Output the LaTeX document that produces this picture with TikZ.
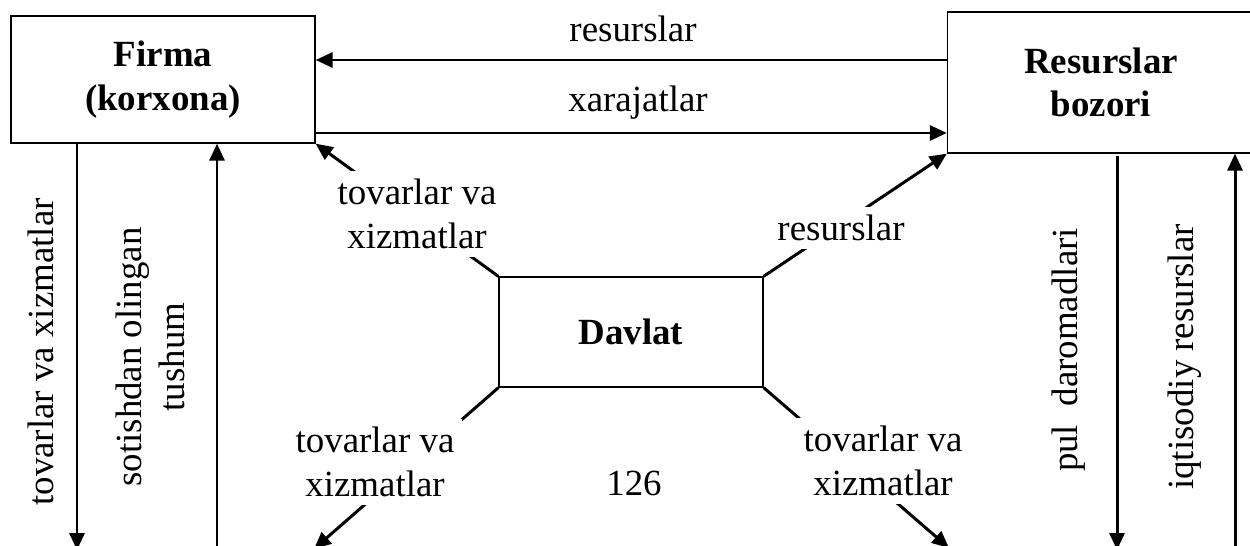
\documentclass[tikz,border=0pt]{standalone}
\usepackage{fontspec}
\setmainfont{Liberation Serif}
\usetikzlibrary{arrows.meta}
\newcommand{\diagfont}{\fontsize{21}{24.7}\selectfont}

\begin{document}
\begin{tikzpicture}[
    every node/.style={font=\diagfont},
    box/.style={draw, line width=0.75pt, inner sep=0pt, align=center, font=\diagfont\bfseries},
    arr/.style={-{Triangle[length=0.34cm,width=0.3cm]}, line width=1.7pt},
    lbl/.style={fill=white, align=center, inner sep=4.5pt}
  ]
  % fix the frame
  \useasboundingbox (0,0) rectangle (25,-10.92);
  \clip (0,0) rectangle (25,-10.92);

  % the three boxes
  \node[box, minimum width=6.08cm, minimum height=2.54cm] (firma) at (3.26,-1.59) {Firma\\(korxona)};
  \node[box, minimum width=6.14cm, minimum height=2.82cm] (bozor) at (22.02,-1.65) {Resurslar\\bozori};
  \node[box, minimum width=5.28cm, minimum height=2.2cm] (davlat) at (12.62,-6.64) {Davlat};

  % helper points
  \coordinate (ytop) at (0,-1.2);
  \coordinate (ybot) at (0,-2.66);
  \coordinate (fout) at (1.54,-11);
  \coordinate (fin) at (4.34,-11);
  \coordinate (bout) at (22.34,-11);
  \coordinate (bin) at (24.7,-11);
  \coordinate (dl) at (6.28,-10.98);
  \coordinate (dr) at (18.98,-10.96);

  % flows between firm and market
  \draw[arr] (bozor.west |- ytop) -- (firma.east |- ytop);
  \draw[arr] (firma.east |- ybot) -- (bozor.west |- ybot);

  \node (lres) at (12.66,-0.57) {resurslar};
  \node (lxar) at (12.76,-2.05) {xarajatlar};

  % vertical flows
  \draw[arr] (firma.south -| fout) -- (fout);
  \draw[arr] (fin) -- (firma.south -| fin);
  \draw[arr, shorten <=1.5pt] (bozor.south -| bout) -- (bout);
  \draw[arr] (bin) -- (bozor.south -| bin);

  \node[rotate=90] (ltov) at (0.81,-7.04) {tovarlar va xizmatlar};
  \node[rotate=90, align=center] (lsot) at (3.01,-7.14) {sotishdan olingan\\tushum};
  \node[rotate=90] (lpul) at (21.38,-7.0) {pul\ \ daromadlari};
  \node[rotate=90] (liqt) at (23.7,-7.14) {iqtisodiy resurslar};

  % state links
  \draw[arr] (davlat.north west) -- (firma.south east);
  \draw[arr] (davlat.north east) -- (bozor.south west);
  \draw[arr] (davlat.south west) -- (dl);
  \draw[arr] (davlat.south east) -- (dr);

  \node[lbl] (dtl) at (8.34,-4.28) {tovarlar va\\xizmatlar};
  \node[lbl] (dtr) at (16.82,-4.56) {resurslar};
  \node[lbl] (dbl) at (7.5,-9.24) {tovarlar va\\xizmatlar};
  \node[lbl] (dbr) at (17.66,-9.22) {tovarlar va\\xizmatlar};

  \node (page) at (12.68,-9.66) {126};
\end{tikzpicture}
\end{document}
